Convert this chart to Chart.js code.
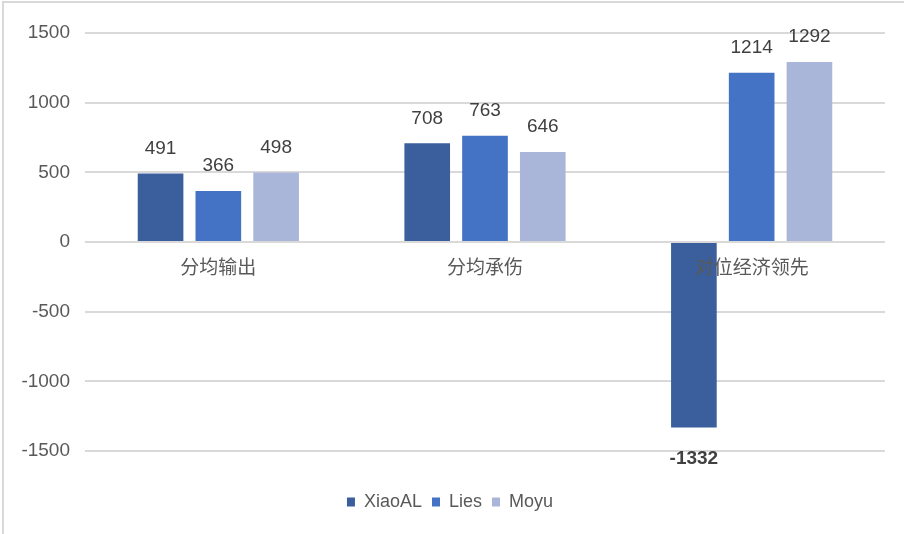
<!DOCTYPE html>
<html>
<head>
<meta charset="utf-8">
<script src="https://cdn.jsdelivr.net/npm/chart.js@4/dist/chart.umd.min.js"></script>
<style>
  html, body { margin: 0; padding: 0; background: #fff; }
  #wrap { width: 912px; height: 534px; position: relative; }
</style>
</head>
<body>
<div id="wrap"><canvas id="grafico"></canvas></div>
<script>
const categorias = ['分均输出', '分均承伤', '对位经济领先']
const xiaoAL = [491, 708, -1332]
const lies = [366, 763, 1214]
const moyu = [498, 646, 1292]
const nomes = ['XiaoAL', 'Lies', 'Moyu']
const cores = ['#3a5f9c', '#4472c4', '#a9b6d9']

const ctx = document.getElementById('grafico')

Chart.defaults.font.family = "'Liberation Sans', 'Noto Sans CJK SC', sans-serif"

// moldura cinza e fundo branco
const fundo = {
    id: 'fundo',
    beforeDraw: (chart) => {
        const c = chart.ctx
        c.save()
        c.fillStyle = '#fff'
        c.fillRect(0, 0, chart.width, chart.height)
        c.strokeStyle = '#d9d9d9'
        c.lineWidth = 2
        c.beginPath()
        c.moveTo(3, 534)
        c.lineTo(3, 2)
        c.lineTo(904, 2)
        c.stroke()
        c.restore()
    }
}

// valores acima / abaixo das barras
const rotulos = {
    id: 'rotulos',
    afterDatasetsDraw: (chart) => {
        const c = chart.ctx
        c.save()
        c.textAlign = 'center'
        c.textBaseline = 'middle'
        c.fillStyle = '#404040'
        chart.data.datasets.forEach((ds, i) => {
            chart.getDatasetMeta(i).data.forEach((bar, j) => {
                const v = ds.data[j]
                if (v < 0) {
                    c.font = "bold 19px 'Liberation Sans', sans-serif"
                    c.fillText(v, bar.x, bar.y + 31)
                } else {
                    c.font = "19px 'Liberation Sans', sans-serif"
                    c.fillText(v, bar.x, bar.y - 25)
                }
            })
        })
        c.restore()
    }
}

const series = [xiaoAL, lies, moyu]

new Chart(ctx, {
    type: 'bar',
    data: {
        labels: categorias,
        datasets: series.map((s, i) => ({
            label: nomes[i],
            data: s,
            backgroundColor: cores[i],
            categoryPercentage: 0.65,
            barPercentage: 0.79
        }))
    },
    options: {
        responsive: true,
        maintainAspectRatio: false,
        animation: false,
        layout: {
            padding: { top: 33, right: 27, bottom: 13, left: 15 }
        },
        plugins: {
            tooltip: { enabled: false },
            legend: {
                position: 'bottom',
                title: { display: true, text: '', font: { size: 10 }, padding: 10 },
                labels: {
                    boxWidth: 8,
                    boxHeight: 9,
                    padding: 10,
                    color: '#595959',
                    font: { size: 18 }
                }
            }
        },
        scales: {
            x: {
                position: { y: 0 },
                grid: { display: false, drawTicks: false },
                border: { display: false },
                ticks: {
                    z: 1,
                    color: '#595959',
                    font: { size: 19, family: "'Noto Sans CJK SC', sans-serif" },
                    padding: 13
                }
            },
            y: {
                min: -1500,
                max: 1500,
                grid: { color: '#d9d9d9', lineWidth: 2, drawTicks: false },
                border: { display: false },
                ticks: {
                    stepSize: 500,
                    color: '#595959',
                    font: { size: 19 },
                    padding: 15,
                    callback: (v) => String(v)
                },
                afterFit: (scale) => { scale.width = 70 }
            }
        }
    },
    plugins: [fundo, rotulos]
})
</script>
</body>
</html>
